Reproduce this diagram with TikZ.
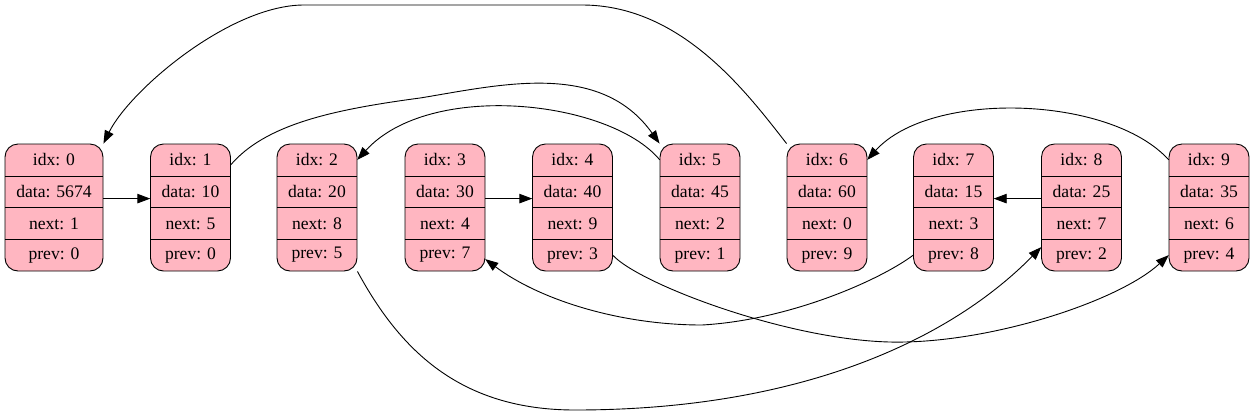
\documentclass[tikz,border=0pt]{standalone}
\usepackage{fontspec}
\setmainfont{Liberation Serif}
\usetikzlibrary{arrows.meta}
\definecolor{recpink}{HTML}{FFB6C1}
\tikzset{
  recbox/.style={draw, fill=recpink, rounded corners=13pt, line width=0.9pt, minimum height=127pt, inner sep=0pt},
  recrow/.style={inner sep=0pt, minimum height=31.75pt},
  recline/.style={line width=0.9pt},
  link/.style={-{Triangle[length=13pt,width=9.5pt]}, line width=0.9pt},
}
% name, x, width, idx, data, next, prev
\newcommand\recnode[7]{%
  \node[recbox, minimum width=#3pt] (#1) at (#2,207.5) {};
  \node[recrow, minimum width=#3pt] (#1-idx) at (#2,159.9) {idx: #4};
  \node[recrow, minimum width=#3pt] (#1-data) at (#2,191.6) {data: #5};
  \node[recrow, minimum width=#3pt] (#1-next) at (#2,223.4) {next: #6};
  \node[recrow, minimum width=#3pt] (#1-prev) at (#2,255.1) {prev: #7};
  \draw[recline] (#1-idx.south west) -- (#1-idx.south east);
  \draw[recline] (#1-data.south west) -- (#1-data.south east);
  \draw[recline] (#1-next.south west) -- (#1-next.south east);
}
\begin{document}
\begin{tikzpicture}[x=1pt, y=-1pt, font=\fontsize{17.6}{21}\selectfont]
\useasboundingbox (0,0) rectangle (1254,416);
\recnode{n0}{54}{98}{0}{5674}{1}{0}
\recnode{n1}{190.5}{80}{1}{10}{5}{0}
\recnode{n2}{317}{80}{2}{20}{8}{5}
\recnode{n3}{445}{80}{3}{30}{4}{7}
\recnode{n4}{572.5}{80}{4}{40}{9}{3}
\recnode{n5}{700}{80}{5}{45}{2}{1}
\recnode{n6}{827}{80}{6}{60}{0}{9}
\recnode{n7}{953.5}{80}{7}{15}{3}{8}
\recnode{n8}{1081.5}{80}{8}{25}{7}{2}
\recnode{n9}{1209}{80}{9}{35}{6}{4}
% straight links
\draw[link] ([yshift=-7pt]n0-data.east) -- ([yshift=-7pt]n1-data.west);
\draw[link] ([yshift=-7pt]n3-data.east) -- ([yshift=-7pt]n4-data.west);
\draw[link] ([yshift=-7pt]n8-data.west) -- ([yshift=-7pt]n7-data.east);
% upper arcs
\draw[link] (n6.north west) .. controls (745,90) and (680,5) .. (582,5) -- (304,5) .. controls (230,5) and (130,90) .. (n0.north east);
\draw[link] ([yshift=-5pt]n1-idx.east) .. controls (265,125) and (330,110) .. (420,98) .. controls (500,85) and (600,60) .. (n5.north west);
\draw[link] (n5-idx.west) .. controls (610,100) and (430,80) .. (n2-idx.east);
\draw[link] (n9-idx.west) .. controls (1110,95) and (930,90) .. (n6-idx.east);
% lower arcs
\draw[link] (n4-prev.east) .. controls (640,285) and (800,345) .. (905,342) .. controls (1000,340) and (1120,300) .. (n9-prev.west);
\draw[link] (n7-prev.west) .. controls (880,280) and (790,320) .. (702,325) .. controls (620,325) and (540,300) .. ([yshift=-4pt]n3-prev.east);
\draw[link] (n2.south east) .. controls (400,350) and (460,410) .. (575,410) .. controls (800,410) and (950,340) .. ([yshift=8pt]n8-prev.west);
\end{tikzpicture}
\end{document}
